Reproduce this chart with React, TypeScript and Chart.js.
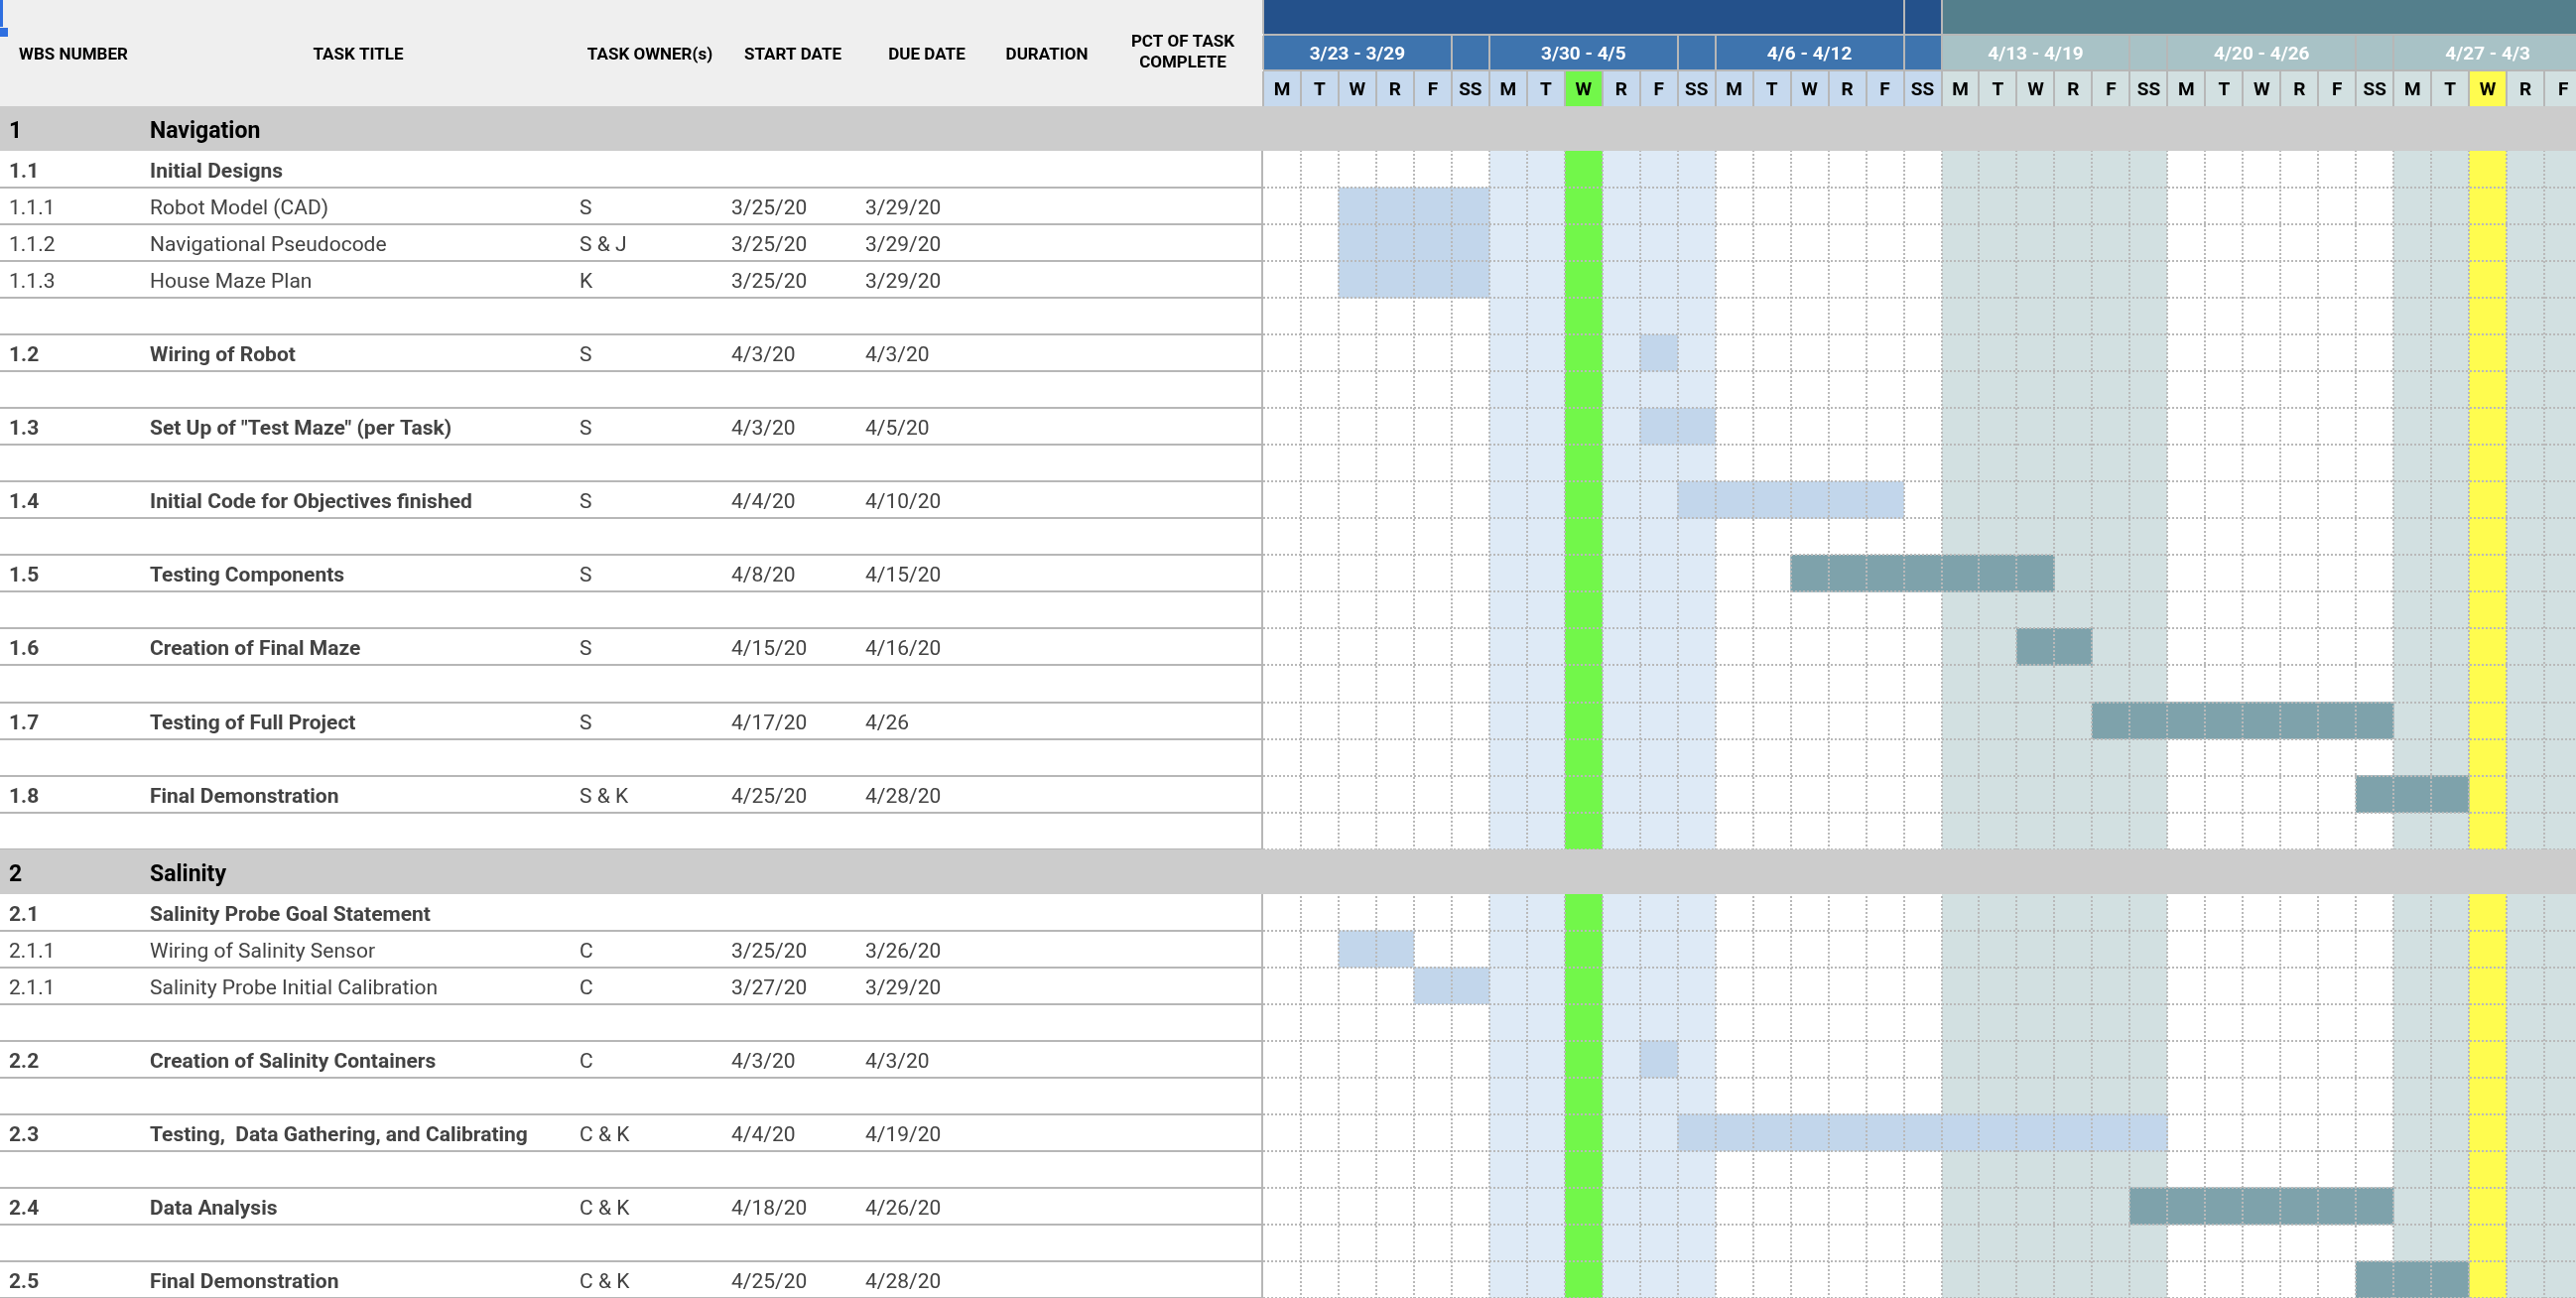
import React, { useEffect, useRef } from 'react';
import { Chart, registerables } from 'chart.js';

Chart.register(...registerables);

// ---------------- DATA ----------------
const ROW_KINDS = [
  'section', 'group', 'task', 'task', 'task', 'blank', 'group', 'blank', 'group', 'blank',
  'group', 'blank', 'group', 'blank', 'group', 'blank', 'group', 'blank', 'group', 'blank',
  'section', 'group', 'task', 'task', 'blank', 'group', 'blank', 'group', 'blank', 'group',
  'blank', 'group',
];
const WBS_NUMBERS = [
  '1', '1.1', '1.1.1', '1.1.2', '1.1.3', '', '1.2', '', '1.3', '',
  '1.4', '', '1.5', '', '1.6', '', '1.7', '', '1.8', '',
  '2', '2.1', '2.1.1', '2.1.1', '', '2.2', '', '2.3', '', '2.4',
  '', '2.5',
];
const TASK_TITLES = [
  'Navigation', 'Initial Designs', 'Robot Model (CAD)', 'Navigational Pseudocode', 'House Maze Plan', '',
  'Wiring of Robot', '', 'Set Up of "Test Maze" (per Task)', '',
  'Initial Code for Objectives finished', '', 'Testing Components', '', 'Creation of Final Maze', '',
  'Testing of Full Project', '', 'Final Demonstration', '',
  'Salinity', 'Salinity Probe Goal Statement', 'Wiring of Salinity Sensor', 'Salinity Probe Initial Calibration', '',
  'Creation of Salinity Containers', '', 'Testing,  Data Gathering, and Calibrating', '', 'Data Analysis',
  '', 'Final Demonstration',
];
const TASK_OWNERS = [
  '', '', 'S', 'S & J', 'K', '', 'S', '', 'S', '',
  'S', '', 'S', '', 'S', '', 'S', '', 'S & K', '',
  '', '', 'C', 'C', '', 'C', '', 'C & K', '', 'C & K',
  '', 'C & K',
];
const START_DATES = [
  '', '', '3/25/20', '3/25/20', '3/25/20', '', '4/3/20', '', '4/3/20', '',
  '4/4/20', '', '4/8/20', '', '4/15/20', '', '4/17/20', '', '4/25/20', '',
  '', '', '3/25/20', '3/27/20', '', '4/3/20', '', '4/4/20', '', '4/18/20',
  '', '4/25/20',
];
const DUE_DATES = [
  '', '', '3/29/20', '3/29/20', '3/29/20', '', '4/3/20', '', '4/5/20', '',
  '4/10/20', '', '4/15/20', '', '4/16/20', '', '4/26', '', '4/28/20', '',
  '', '', '3/26/20', '3/29/20', '', '4/3/20', '', '4/19/20', '', '4/26/20',
  '', '4/28/20',
];
// bar tone per row ('blue' = early phase, 'teal' = later phase)
const BAR_TONES = [
  '', '', 'blue', 'blue', 'blue', '', 'blue', '', 'blue', '',
  'blue', '', 'teal', '', 'teal', '', 'teal', '', 'teal', '',
  '', '', 'blue', 'blue', '', 'blue', '', 'blue', '', 'teal',
  '', 'teal',
];
const COLUMN_HEADERS = ['WBS NUMBER', 'TASK TITLE', 'TASK OWNER(s)', 'START DATE', 'DUE DATE', 'DURATION', 'PCT OF TASK\nCOMPLETE'];
const WEEK_LABELS = ['3/23 - 3/29', '3/30 - 4/5', '4/6 - 4/12', '4/13 - 4/19', '4/20 - 4/26', '4/27 - 4/3'];
const DAY_LETTERS = ['M', 'T', 'W', 'R', 'F', 'SS'];
const TIMELINE_START = '3/23/20';
const HIGHLIGHT_DATES = ['4/1/20', '4/29/20'];

// ---------------- STYLE / LAYOUT ----------------
const W = 2596;
const H = 1308;
const TABLE_W = 1273;
const HEADER_H = 107;
const ROW_PX = 37;
const SECTION_PX = 45;
const VISIBLE_COLS = 34.84;
const HEADER_TEXT_X = [74, 361, 655, 799, 934, 1055, 1192];
const TEXT_X = { wbs: 9, title: 151, owner: 584, start: 737, due: 872 };
const FONT = 'Roboto, "Noto Sans", sans-serif';
const GRID = '#b9b9b9';
const BORDER = '#b7b7b7';
const HIGHLIGHT_COLORS = ['#72f74a', '#fffc4f'];
const BAR_COLORS: Record<string, string> = { blue: '#c2d6eb', teal: '#7ea2ab' };
const WEEK_BODY_FILLS = ['#ffffff', '#deeaf6', '#ffffff', '#d2e0e1', '#ffffff', '#d2e0e1'];
const SCHEMES = {
  blue: { band: '#24518b', week: '#3e74ae', day: '#c6d9ee' },
  teal: { band: '#547f8c', week: '#a8c2c6', day: '#d2e0e1' },
};

// ---------------- HELPERS ----------------
function parseDate(s: string) {
  const parts = s.split('/').map(Number);
  const y = parts.length > 2 ? 2000 + parts[2] : 2020;
  return Date.UTC(y, parts[0] - 1, parts[1]);
}
function dateToCol(s: string) {
  const diff = Math.round((parseDate(s) - parseDate(TIMELINE_START)) / 864e5);
  const wk = Math.floor(diff / 7);
  const dow = diff - wk * 7;
  return wk * 6 + Math.min(dow, 5);
}
const rowUnits = ROW_KINDS.map((k) => (k === 'section' ? SECTION_PX / ROW_PX : 1));
const rowTops: number[] = [];
{
  let acc = 0;
  rowUnits.forEach((u) => { rowTops.push(acc); acc += u; });
}
const TOTAL_UNITS = rowUnits.reduce((a, b) => a + b, 0);
const NUM_COLS = WEEK_LABELS.length * DAY_LETTERS.length;

const barPoints: any[] = [];
const barColors: string[] = [];
ROW_KINDS.forEach((_, i) => {
  if (START_DATES[i] && DUE_DATES[i]) {
    barPoints.push({ x: [dateToCol(START_DATES[i]), dateToCol(DUE_DATES[i]) + 1], y: rowTops[i] + rowUnits[i] / 2 });
    barColors.push(BAR_COLORS[BAR_TONES[i]]);
  }
});
const highlightCols = HIGHLIGHT_DATES.map(dateToCol);

// ---------------- PLUGIN ----------------
const ganttPlugin = {
  id: 'ganttSheet',
  beforeDatasetsDraw(chart: any) {
    const { ctx, chartArea: ca, scales } = chart;
    const xs = scales.x;
    const px = (c: number) => Math.round(xs.getPixelForValue(c));
    ctx.save();
    ctx.fillStyle = '#ffffff';
    ctx.fillRect(0, 0, chart.width, chart.height);
    for (let c = 0; c < NUM_COLS; c++) {
      const wk = Math.floor(c / 6);
      const hi = highlightCols.indexOf(c);
      ctx.fillStyle = hi >= 0 ? HIGHLIGHT_COLORS[hi] : WEEK_BODY_FILLS[wk];
      ctx.fillRect(px(c), ca.top, px(c + 1) - px(c), ca.bottom - ca.top);
    }
    ctx.restore();
  },
  afterDatasetsDraw(chart: any) {
    const { ctx, chartArea: ca, scales } = chart;
    const xs = scales.x;
    const ys = scales.y;
    const px = (c: number) => Math.round(xs.getPixelForValue(c));
    const py = (u: number) => Math.round(ys.getPixelForValue(u));
    ctx.save();

    // dotted grid in gantt body
    ctx.strokeStyle = GRID;
    ctx.lineWidth = 2;
    ctx.setLineDash([2, 2]);
    for (let c = 1; c <= NUM_COLS; c++) {
      const x = px(c);
      if (x > ca.right + 2) break;
      ctx.beginPath();
      ctx.moveTo(x, ca.top);
      ctx.lineTo(x, ca.bottom);
      ctx.stroke();
    }
    ROW_KINDS.forEach((k, i) => {
      if (k === 'section') return;
      const y = py(rowTops[i] + rowUnits[i]);
      ctx.beginPath();
      ctx.moveTo(ca.left, y);
      ctx.lineTo(ca.right, y);
      ctx.stroke();
    });
    ctx.setLineDash([]);

    // table row lines + right border
    ctx.strokeStyle = BORDER;
    ctx.lineWidth = 2;
    ROW_KINDS.forEach((k, i) => {
      if (k === 'section') return;
      const y = py(rowTops[i] + rowUnits[i]);
      ctx.beginPath();
      ctx.moveTo(0, y);
      ctx.lineTo(ca.left, y);
      ctx.stroke();
    });
    ctx.beginPath();
    ctx.moveTo(ca.left - 1, ca.top);
    ctx.lineTo(ca.left - 1, ca.bottom);
    ctx.stroke();

    // section bands
    ROW_KINDS.forEach((k, i) => {
      if (k !== 'section') return;
      const t = py(rowTops[i]);
      const b = py(rowTops[i] + rowUnits[i]);
      ctx.fillStyle = '#cccccc';
      ctx.fillRect(0, t, chart.width, b - t);
    });

    // table text
    ctx.textBaseline = 'alphabetic';
    ctx.textAlign = 'left';
    ROW_KINDS.forEach((k, i) => {
      if (k === 'blank') return;
      const center = ys.getPixelForValue(rowTops[i] + rowUnits[i] / 2);
      if (k === 'section') {
        ctx.fillStyle = '#000000';
        ctx.font = `bold 23px ${FONT}`;
        const base = center + 9.5;
        ctx.fillText(WBS_NUMBERS[i], TEXT_X.wbs, base);
        ctx.fillText(TASK_TITLES[i], TEXT_X.title, base);
        return;
      }
      const base = center + 8.5;
      ctx.fillStyle = '#434343';
      ctx.font = (k === 'group' ? 'bold ' : '') + `21px ${FONT}`;
      ctx.fillText(WBS_NUMBERS[i], TEXT_X.wbs, base);
      ctx.fillText(TASK_TITLES[i], TEXT_X.title, base);
      ctx.font = `21px ${FONT}`;
      ctx.fillText(TASK_OWNERS[i], TEXT_X.owner, base);
      ctx.fillText(START_DATES[i], TEXT_X.start, base);
      ctx.fillText(DUE_DATES[i], TEXT_X.due, base);
    });

    // ---- header ----
    ctx.fillStyle = '#efefef';
    ctx.fillRect(0, 0, ca.left, HEADER_H);
    ctx.fillStyle = '#000000';
    ctx.font = `bold 17px ${FONT}`;
    ctx.textAlign = 'center';
    COLUMN_HEADERS.forEach((h, i) => {
      const lines = h.split('\n');
      if (lines.length === 1) {
        ctx.fillText(lines[0], HEADER_TEXT_X[i], 60);
      } else {
        ctx.fillText(lines[0], HEADER_TEXT_X[i], 47);
        ctx.fillText(lines[1], HEADER_TEXT_X[i], 67.5);
      }
    });

    // gantt header bands
    const bandBottom = 34;
    const weekTop = 36;
    const weekBottom = 70;
    const dayTop = 72;
    const dayBottom = HEADER_H;
    for (let c = 0; c < NUM_COLS; c++) {
      const wk = Math.floor(c / 6);
      const sch = wk < 3 ? SCHEMES.blue : SCHEMES.teal;
      const x0 = px(c);
      const x1 = px(c + 1);
      ctx.fillStyle = sch.band;
      ctx.fillRect(x0, 0, x1 - x0, bandBottom);
      ctx.fillStyle = sch.week;
      ctx.fillRect(x0, weekTop, x1 - x0, weekBottom - weekTop);
      const hi = highlightCols.indexOf(c);
      ctx.fillStyle = hi >= 0 ? HIGHLIGHT_COLORS[hi] : sch.day;
      ctx.fillRect(x0, dayTop, x1 - x0, dayBottom - dayTop);
    }
    ctx.fillStyle = BORDER;
    ctx.fillRect(ca.left, bandBottom, chart.width - ca.left, weekTop - bandBottom);
    ctx.fillRect(ca.left, weekBottom, chart.width - ca.left, dayTop - weekBottom);

    // vertical dividers
    ctx.strokeStyle = BORDER;
    ctx.lineWidth = 2;
    const vline = (x: number, y0: number, y1: number) => {
      ctx.beginPath();
      ctx.moveTo(x, y0);
      ctx.lineTo(x, y1);
      ctx.stroke();
    };
    [0, 17, 18].forEach((c) => vline(px(c), 0, bandBottom));
    for (let wk = 0; wk < WEEK_LABELS.length; wk++) {
      vline(px(wk * 6), weekTop, weekBottom);
      vline(px(wk * 6 + 5), weekTop, weekBottom);
    }
    for (let c = 0; c <= NUM_COLS; c++) vline(px(c), dayTop, dayBottom);

    // week labels & day letters
    ctx.textAlign = 'center';
    ctx.font = `bold 19px ${FONT}`;
    ctx.fillStyle = '#ffffff';
    WEEK_LABELS.forEach((lbl, wk) => {
      const cx = (xs.getPixelForValue(wk * 6) + xs.getPixelForValue(wk * 6 + 5)) / 2;
      ctx.fillText(lbl, cx, 59.5);
    });
    ctx.fillStyle = '#000000';
    for (let c = 0; c < NUM_COLS; c++) {
      const cx = (xs.getPixelForValue(c) + xs.getPixelForValue(c + 1)) / 2;
      ctx.fillText(DAY_LETTERS[c % 6], cx, 95.5);
    }

    // selection marks in the corner
    ctx.fillStyle = '#2f6fe0';
    ctx.fillRect(0, 0, 3, 27);
    ctx.fillRect(0, 28, 8, 9);
    ctx.restore();
  },
};

export default function App() {
  const canvasRef = useRef<HTMLCanvasElement | null>(null);
  useEffect(() => {
    document.body.style.margin = '0';
    const canvas = canvasRef.current;
    if (!canvas) return;
    const chart = new Chart(canvas, {
      type: 'bar',
      data: {
        datasets: [
          {
            data: barPoints,
            backgroundColor: barColors,
            borderWidth: 0,
            barThickness: ROW_PX,
            grouped: false,
          } as any,
        ],
      },
      options: {
        indexAxis: 'y',
        animation: false,
        responsive: false,
        maintainAspectRatio: false,
        devicePixelRatio: 1,
        layout: { padding: { left: TABLE_W, top: HEADER_H, right: 0, bottom: 0 } },
        scales: {
          x: { type: 'linear', min: 0, max: VISIBLE_COLS, display: false, offset: false, grace: 0 },
          y: { type: 'linear', min: 0, max: TOTAL_UNITS, reverse: true, display: false, offset: false, grace: 0 },
        },
        plugins: { legend: { display: false }, tooltip: { enabled: false } },
      } as any,
      plugins: [ganttPlugin],
    });
    return () => chart.destroy();
  }, []);
  return (
    <div style={{ width: W, height: H, overflow: 'hidden', background: '#fff' }}>
      <canvas ref={canvasRef} width={W} height={H} style={{ display: 'block', width: W, height: H }} />
    </div>
  );
}
